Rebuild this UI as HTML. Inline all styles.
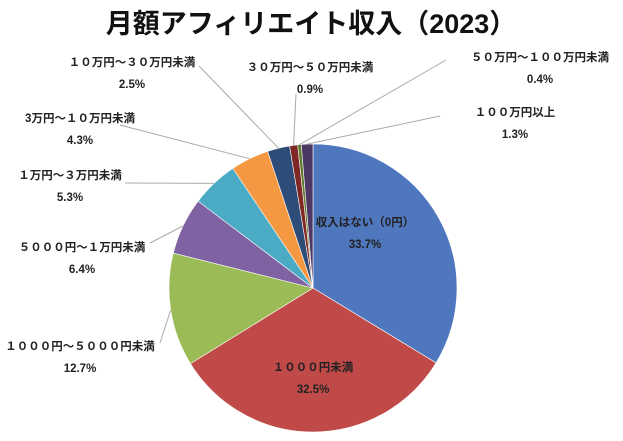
<!DOCTYPE html>
<html><head><meta charset="utf-8"><style>
body{margin:0;background:#fff;}
svg{display:block;font-family:"Liberation Sans","Noto Sans CJK JP",sans-serif;}
</style></head><body>
<svg width="623" height="441" viewBox="0 0 623 441">
<text x="311" y="33" text-anchor="middle" font-size="27" font-weight="bold" fill="#111">月額アフィリエイト収入（2023）</text>
<g id="slices"></g><g id="leaders"></g><g id="labels"></g>
</svg>
<script>
const categories=["収入はない（0円）","１０００円未満","１０００円～５０００円未満","５０００円～１万円未満","１万円～３万円未満","3万円～１０万円未満","１０万円～３０万円未満","３０万円～５０万円未満","５０万円～１００万円未満","１００万円以上"];
const values=[33.7,32.5,12.7,6.4,5.3,4.3,2.5,0.9,0.4,1.3];
const pctLabels=["33.7%","32.5%","12.7%","6.4%","5.3%","4.3%","2.5%","0.9%","0.4%","1.3%"];
const colors=["#4f77bd","#c04a48","#9bbb57","#7f62a2","#4babc5","#f49842","#2d4c77","#7f2826","#5f7a2e","#4d3865"];
const labelPos=[[365,222,true],[313,367,true],[80,346],[82,247],[70,175],[80,118],[132,62],[310,67],[540,57],[515,112]];
const leaderStart=[null,null,[160,343],[150,243],[125,183],[120,125],[199,66],[296,94],[446,60],[440,116]];
const cx=313,cy=288,r=144;
const ns="http://www.w3.org/2000/svg";
const total=values.reduce((a,b)=>a+b,0);
function pt(a,rr){return [cx+rr*Math.sin(a),cy-rr*Math.cos(a)];}
let acc=0;
const gS=document.getElementById('slices'),gL=document.getElementById('leaders'),gT=document.getElementById('labels');
values.forEach((v,i)=>{
  const a0=acc/total*2*Math.PI; acc+=v; const a1=acc/total*2*Math.PI;
  const p0=pt(a0,r),p1=pt(a1,r);
  const path=document.createElementNS(ns,'path');
  path.setAttribute('d',`M${cx},${cy}L${p0[0]},${p0[1]}A${r},${r} 0 ${a1-a0>Math.PI?1:0} 1 ${p1[0]},${p1[1]}Z`);
  path.setAttribute('fill',colors[i]);path.setAttribute('stroke','#fff');path.setAttribute('stroke-width','0.6');
  
  
  gS.appendChild(path);
  if(leaderStart[i]){
    const pm=pt((a0+a1)/2,r);
    const ln=document.createElementNS(ns,'line');
    ln.setAttribute('x1',leaderStart[i][0]);ln.setAttribute('y1',leaderStart[i][1]);
    ln.setAttribute('x2',pm[0]);ln.setAttribute('y2',pm[1]);
    ln.setAttribute('stroke','#aaa');ln.setAttribute('stroke-width','1');
    
    
    gL.appendChild(ln);
  }
  const lp=labelPos[i];
  [[categories[i],0],[pctLabels[i],22]].forEach(([t,dy],k)=>{
    const tx=document.createElementNS(ns,'text');
    tx.setAttribute('x',lp[0]);tx.setAttribute('y',lp[1]+dy+4);
    tx.setAttribute('text-anchor','middle');tx.setAttribute('font-size','11.5');
    tx.setAttribute('font-weight','bold');tx.setAttribute('fill','#222');
    tx.textContent=t;
    
    
    gT.appendChild(tx);
  });
});
</script>
</body></html>
